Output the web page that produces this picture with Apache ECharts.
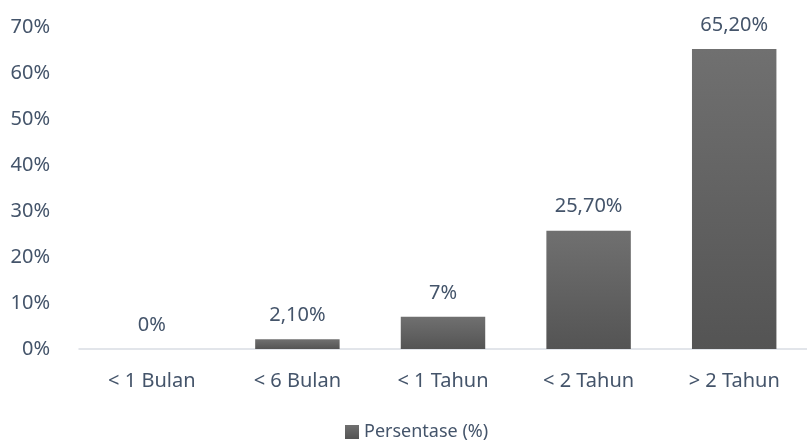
<!DOCTYPE html>
<html>
<head>
<meta charset="utf-8">
<script src="https://cdn.jsdelivr.net/npm/echarts@6/dist/echarts.min.js"></script>
<style>
  html, body { margin: 0; padding: 0; background: #fff; }
  #chart { width: 807px; height: 443px; }
</style>
</head>
<body>
<div id="chart"></div>
<script>
// data
const categories = ['< 1 Bulan', '< 6 Bulan', '< 1 Tahun', '< 2 Tahun', '> 2 Tahun']
const persentase = [0, 2.1, 7, 25.7, 65.2]
const seriesName = 'Persentase (%)'

const textColor = '#44546a'
const fontFamily = 'Noto Sans, sans-serif'

// 2,10% style labels, whole numbers without decimals
function fmt(v) {
  return Number.isInteger(v) ? v + '%' : v.toFixed(2).replace('.', ',') + '%'
}

const chart = echarts.init(document.getElementById('chart'))
chart.setOption({
  animation: false,
  textStyle: { fontFamily: fontFamily },
  grid: {
    left: 79,
    top: 27,
    width: 742,
    height: 322
  },
  legend: {
    bottom: -3,
    left: 340,
    icon: 'rect',
    itemWidth: 14,
    itemHeight: 14,
    itemGap: 4,
    textStyle: { color: textColor, fontSize: 18, fontFamily: fontFamily },
    data: [seriesName]
  },
  xAxis: {
    type: 'category',
    data: categories,
    axisLine: { lineStyle: { color: '#d9dde3', width: 1.5 } },
    axisTick: { show: false },
    axisLabel: { color: textColor, fontSize: 20, margin: 22 }
  },
  yAxis: {
    type: 'value',
    min: 0,
    max: 70,
    interval: 10,
    splitLine: { show: false },
    axisLine: { show: false },
    axisTick: { show: false },
    axisLabel: {
      color: textColor,
      fontSize: 20,
      margin: 29,
      formatter: function (v) { return v + '%' }
    }
  },
  series: [{
    name: seriesName,
    type: 'bar',
    data: persentase,
    barWidth: '58%',
    itemStyle: {
      color: new echarts.graphic.LinearGradient(0, 0, 0, 1, [
        { offset: 0, color: '#707070' },
        { offset: 1, color: '#545454' }
      ])
    },
    label: {
      show: true,
      position: 'top',
      distance: 14,
      color: textColor,
      fontSize: 20,
      formatter: function (p) { return fmt(p.value) }
    }
  }]
})
</script>
</body>
</html>
